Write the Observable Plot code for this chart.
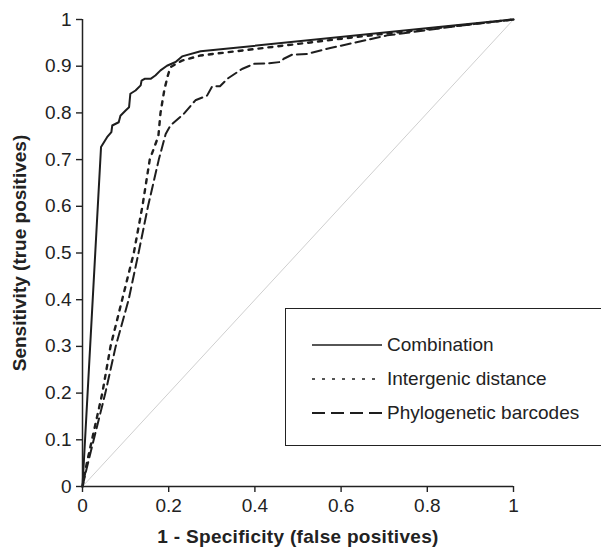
<!DOCTYPE html>
<html>
<head>
<meta charset="utf-8">
<script src="https://cdn.jsdelivr.net/npm/d3@7"></script>
<script src="https://cdn.jsdelivr.net/npm/@observablehq/plot@0.6"></script>
<style>
  html, body { margin: 0; padding: 0; background: #fff; }
  #wrap { position: relative; width: 601px; height: 552px; overflow: hidden; font-family: "Liberation Sans", Arial, sans-serif; }
  #legend { position: absolute; left: 285px; top: 308px; width: 320px; height: 138px; border: 1.5px solid #222; box-sizing: border-box; background: #fff; }
  .lg-row { position: absolute; left: 26px; height: 24px; display: flex; align-items: center; }
  .lg-row span { font-size: 19px; color: #222; margin-left: 5px; white-space: nowrap; }
</style>
</head>
<body>
<div id="wrap"></div>
<script>
// ---- data ----
const xTicks = [0, 0.2, 0.4, 0.6, 0.8, 1];
const yTicks = [0, 0.1, 0.2, 0.3, 0.4, 0.5, 0.6, 0.7, 0.8, 0.9, 1];

const seriesNames = ["Combination", "Intergenic distance", "Phylogenetic barcodes"];

const combX = [0, 0.043, 0.057, 0.067, 0.069, 0.084, 0.088, 0.100, 0.108, 0.111, 0.123, 0.135, 0.137, 0.144, 0.158, 0.169, 0.181, 0.196, 0.216, 0.231, 0.274, 1];
const combY = [0, 0.727, 0.748, 0.759, 0.773, 0.780, 0.794, 0.805, 0.812, 0.841, 0.848, 0.859, 0.869, 0.873, 0.873, 0.880, 0.891, 0.901, 0.909, 0.921, 0.932, 1];

const interX = [0, 0.010, 0.022, 0.046, 0.065, 0.092, 0.119, 0.139, 0.156, 0.176, 0.181, 0.190, 0.198, 0.204, 0.231, 0.274, 0.630, 1];
const interY = [0, 0.05, 0.10, 0.20, 0.30, 0.40, 0.50, 0.60, 0.70, 0.75, 0.80, 0.85, 0.88, 0.898, 0.912, 0.923, 0.962, 1];

const phyloX = [0, 0.010, 0.026, 0.053, 0.077, 0.107, 0.130, 0.152, 0.177, 0.193, 0.204, 0.235, 0.262, 0.289, 0.301, 0.319, 0.336, 0.370, 0.398, 0.430, 0.459, 0.467, 0.487, 0.521, 0.575, 0.600, 0.707, 0.861, 1];
const phyloY = [0, 0.04, 0.10, 0.20, 0.30, 0.40, 0.50, 0.60, 0.70, 0.755, 0.773, 0.798, 0.827, 0.837, 0.857, 0.857, 0.873, 0.894, 0.905, 0.906, 0.909, 0.916, 0.925, 0.926, 0.939, 0.944, 0.966, 0.985, 1];

const diagX = [0, 1];
const diagY = [0, 1];

// ---- build tables ----
const toRows = (xs, ys) => xs.map((x, i) => ({x, y: ys[i]}));
const comb = toRows(combX, combY);
const inter = toRows(interX, interY);
const phylo = toRows(phyloX, phyloY);
const diag = toRows(diagX, diagY);

const ink = "#1e1e1e";
const styles = [
  {stroke: ink, strokeWidth: 2, dash: null, legendDash: null, legendWidth: 1.3},
  {stroke: ink, strokeWidth: 2.4, dash: "4,6", legendDash: "3,7", legendWidth: 1.6},
  {stroke: ink, strokeWidth: 2, dash: "10,5", legendDash: "13,6", legendWidth: 2}
];

const chart = Plot.plot({
  width: 601,
  height: 552,
  marginLeft: 82,
  marginRight: 88,
  marginTop: 19,
  marginBottom: 66,
  style: {fontFamily: '"Liberation Sans", Arial, sans-serif', fontSize: "19px", color: "#222", background: "#fff"},
  x: {domain: [0, 1]},
  y: {domain: [0, 1]},
  marks: [
    Plot.line(diag, {x: "x", y: "y", stroke: "#cfcfcf", strokeWidth: 1}),
    Plot.line(phylo, {x: "x", y: "y", stroke: styles[2].stroke, strokeWidth: styles[2].strokeWidth, strokeDasharray: styles[2].dash}),
    Plot.line(inter, {x: "x", y: "y", stroke: styles[1].stroke, strokeWidth: styles[1].strokeWidth, strokeDasharray: styles[1].dash}),
    Plot.line(comb, {x: "x", y: "y", stroke: styles[0].stroke, strokeWidth: styles[0].strokeWidth}),
    Plot.axisX({ticks: xTicks, tickFormat: d => `${d}`, tickSize: 6, tickPadding: 6, strokeWidth: 1.4,
      label: "1 - Specificity (false positives)", labelAnchor: "center", labelArrow: "none", labelOffset: 56, fontSize: 19}),
    Plot.axisY({ticks: yTicks, tickFormat: d => `${d}`, tickSize: 6, tickPadding: 5, strokeWidth: 1.4,
      label: "Sensitivity (true positives)", labelAnchor: "center", labelOffset: 70, labelArrow: "none", fontSize: 19}),
    Plot.ruleX([0], {stroke: "#222", strokeWidth: 1.5}),
    Plot.ruleY([0], {stroke: "#222", strokeWidth: 1.5})
  ]
});

const wrap = document.getElementById("wrap");
wrap.appendChild(chart);

// tick label size, bold axis titles
d3.select(chart).selectAll('g[aria-label$="tick label"]').attr("font-size", 19);
d3.select(chart).selectAll('g[aria-label="x-axis label"], g[aria-label="x-axis label"] text')
  .attr("font-weight", "bold").attr("letter-spacing", "0.3px").attr("font-size", 19);
d3.select(chart).selectAll('g[aria-label="y-axis label"], g[aria-label="y-axis label"] text')
  .attr("font-weight", "bold").attr("font-size", 19);

// ---- legend ----
const legend = document.createElement("div");
legend.id = "legend";
const rowTops = [24, 58, 92];
seriesNames.forEach((name, i) => {
  const row = document.createElement("div");
  row.className = "lg-row";
  row.style.top = rowTops[i] + "px";
  const s = d3.create("svg").attr("width", 70).attr("height", 24);
  s.append("line").attr("x1", 0).attr("x2", 70).attr("y1", 12).attr("y2", 12)
    .attr("stroke", styles[i].stroke).attr("stroke-width", styles[i].legendWidth)
    .attr("stroke-dasharray", styles[i].legendDash);
  row.appendChild(s.node());
  const t = document.createElement("span");
  t.textContent = name;
  row.appendChild(t);
  legend.appendChild(row);
});
wrap.appendChild(legend);
</script>
</body>
</html>
